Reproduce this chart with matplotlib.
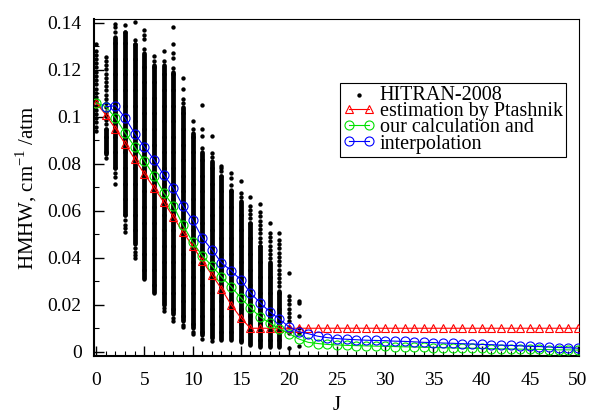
import matplotlib
matplotlib.use("Agg")
import matplotlib.pyplot as plt
from matplotlib.ticker import MultipleLocator, FuncFormatter
import numpy as np

plt.rcParams["font.family"] = ["Liberation Serif", "DejaVu Serif"]
plt.rcParams["mathtext.fontset"] = "custom"
plt.rcParams["mathtext.rm"] = "Liberation Serif"

# HITRAN-2008 columns: for each J the bottom of the column, top of the solid part,
# top of the dotted part, and isolated points
hit_j = list(range(22))
hit_lo = [0.094, 0.084, 0.078, 0.058, 0.046, 0.031, 0.025, 0.020, 0.016, 0.013, 0.010,
          0.007, 0.006, 0.005, 0.005, 0.004, 0.003, 0.002, 0.002, 0.002, 0.013, 0.0217]
hit_mid = [0.094, 0.095, 0.134, 0.136, 0.131, 0.127, 0.122, 0.122, 0.119, 0.104, 0.093,
           0.085, 0.081, 0.075, 0.069, 0.064, 0.055, 0.045, 0.038, 0.026, 0.013, 0.0217]
hit_hi = [0.129, 0.127, 0.134, 0.136, 0.133, 0.129, 0.125, 0.125, 0.121, 0.108, 0.095,
          0.088, 0.086, 0.077, 0.072, 0.068, 0.063, 0.061, 0.052, 0.048, 0.025, 0.0217]
hit_extra = [
    [0.131],
    [0.0825],
    [0.1395, 0.138, 0.136, 0.076, 0.0745, 0.0715],
    [0.139, 0.056, 0.054, 0.0525, 0.051],
    [0.1405, 0.044, 0.0425, 0.041, 0.040],
    [0.137, 0.135, 0.133],
    [0.126],
    [0.128, 0.0185, 0.0175],
    [0.138, 0.131, 0.127, 0.125, 0.0145, 0.013],
    [0.1166, 0.112, 0.0115, 0.0105],
    [0.098, 0.0085, 0.0075],
    [0.105, 0.095, 0.092, 0.0055],
    [0.092, 0.0045],
    [0.079, 0.078],
    [0.076, 0.074],
    [0.0728],
    [0.066],
    [0.063],
    [0.055],
    [0.0506],
    [0.0336, 0.0105, 0.008, 0.0017],
    [0.0209, 0.0153, 0.0102, 0.008, 0.0026],
]

J = list(range(51))
ptashnik = [0.106, 0.1008, 0.0949, 0.0885, 0.082, 0.0757, 0.0698, 0.0638, 0.0574, 0.051,
            0.0451, 0.0387, 0.0328, 0.0268, 0.020, 0.0145, 0.010, 0.010, 0.010, 0.010,
            0.010, 0.010, 0.010, 0.010, 0.010, 0.010, 0.010, 0.010, 0.010, 0.010,
            0.010, 0.010, 0.010, 0.010, 0.010, 0.010, 0.010, 0.010, 0.010, 0.010,
            0.010, 0.010, 0.010, 0.010, 0.010, 0.010, 0.010, 0.010, 0.010, 0.010, 0.010]
ours = [0.106, 0.1043, 0.0996, 0.0932, 0.0872, 0.0813, 0.0749, 0.0677, 0.0621, 0.054,
        0.0468, 0.0409, 0.0366, 0.0319, 0.0277, 0.023, 0.0187, 0.0149, 0.0123, 0.0098,
        0.0077, 0.0055, 0.0040, 0.0035, 0.0031, 0.0029, 0.0027, 0.0026, 0.0025, 0.0024,
        0.0023, 0.0022, 0.0021, 0.0020, 0.0019, 0.0018, 0.0017, 0.0016, 0.0015, 0.0015,
        0.0014, 0.0013, 0.0012, 0.0012, 0.0011, 0.0010, 0.0010, 0.0009, 0.0008, 0.0008,
        0.0007]
J_interp = list(range(1, 51))
interp = [0.1043, 0.1047, 0.0996, 0.0928, 0.0872, 0.0817, 0.0753, 0.0698, 0.0621, 0.0562,
          0.0485, 0.0434, 0.0379, 0.0345, 0.0306, 0.0251, 0.0209, 0.017, 0.014, 0.0106,
          0.0085, 0.0077, 0.0066, 0.0060, 0.0056, 0.0053, 0.0051, 0.0049, 0.0048, 0.0047,
          0.0045, 0.0044, 0.0042, 0.0040, 0.0039, 0.0037, 0.0036, 0.0034, 0.0033, 0.0031,
          0.0030, 0.0028, 0.0027, 0.0025, 0.0023, 0.0022, 0.0020, 0.0018, 0.0017, 0.0015]

# expand the column ranges into dots (solid part tightly packed, upper part dotted)
xs, ys = [], []
for j, lo, mid, hi, extra in zip(hit_j, hit_lo, hit_mid, hit_hi, hit_extra):
    vals = list(np.arange(lo, mid, 0.0004)) + list(np.arange(mid, hi + 1e-9, 0.0018)) + extra
    xs += [j] * len(vals)
    ys += vals

fig = plt.figure(figsize=(5.89, 4.19), dpi=100)
ax = fig.add_axes([0.160, 0.151, 0.823, 0.803])

ax.scatter(xs, ys, s=10, c="black", marker="o", linewidths=0, label="HITRAN-2008", zorder=1)
ax.plot(J, ptashnik, color="red", lw=0.8, marker="^", ms=6, mfc="none", mew=0.8,
        label="estimation by Ptashnik", zorder=3)
ax.plot(J, ours, color="#00e000", lw=0.8, marker="o", ms=6.5, mfc="none", mew=0.8,
        label="our calculation and", zorder=3)
ax.plot(J_interp, interp, color="blue", lw=0.8, marker="o", ms=6.5, mfc="none", mew=0.8,
        label="interpolation", zorder=4)

ax.set_xlim(-0.2, 50.1)
ax.set_ylim(-0.0017, 0.1415)
ax.xaxis.set_major_locator(MultipleLocator(5))
ax.xaxis.set_minor_locator(MultipleLocator(1))
ax.yaxis.set_major_locator(MultipleLocator(0.02))
ax.yaxis.set_minor_locator(MultipleLocator(0.01))
ax.yaxis.set_major_formatter(FuncFormatter(lambda v, p: f"{v:g}"))
ax.tick_params(which="both", direction="in", top=False, right=False, labelsize=14)
ax.tick_params(which="major", length=7, width=1.0)
ax.tick_params(which="minor", length=3.5, width=0.8)
ax.tick_params(axis="x", pad=12)
ax.tick_params(axis="y", pad=9)
for side in ["left", "bottom"]:
    ax.spines[side].set_linewidth(1.5)
for side in ["top", "right"]:
    ax.spines[side].set_linewidth(0.8)

ax.set_xlabel("J", fontsize=15, labelpad=5)
ax.set_ylabel("HMHW, cm$^{\\mathrm{-1}}$ /atm", fontsize=15, labelpad=6)

leg = ax.legend(loc="upper right", bbox_to_anchor=(0.973, 0.81), borderaxespad=0,
                fontsize=14.5, numpoints=2, scatterpoints=1, handlelength=1.6,
                handletextpad=0.25, labelspacing=-0.15, borderpad=0.15,
                fancybox=False, framealpha=1, edgecolor="black")
leg.get_frame().set_linewidth(0.8)

fig.savefig("out.png", dpi=100)
